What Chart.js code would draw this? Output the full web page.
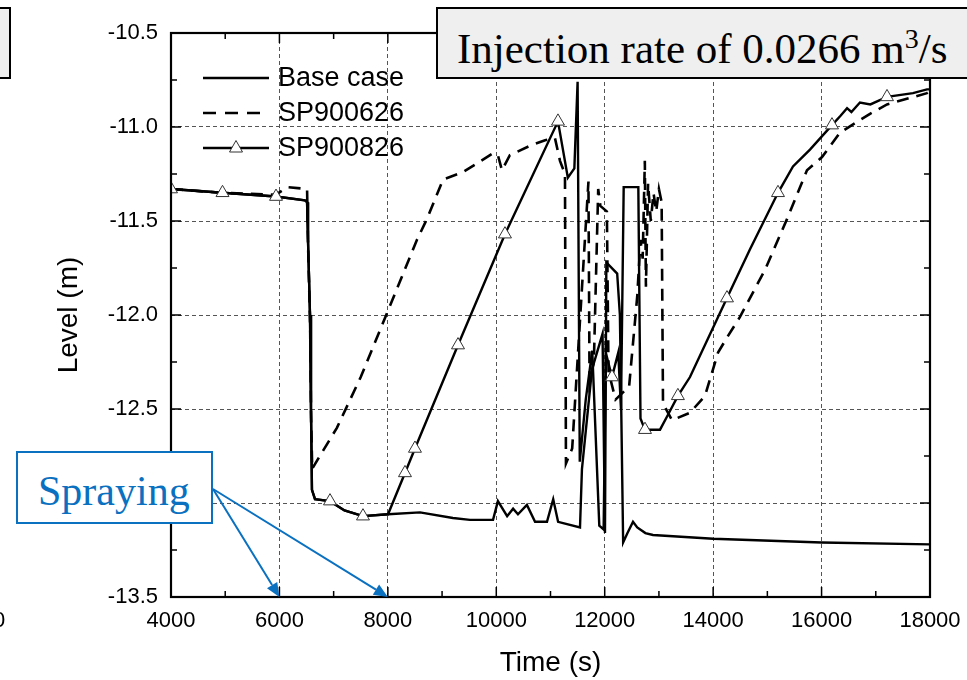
<!DOCTYPE html>
<html>
<head>
<meta charset="utf-8">
<script src="https://cdn.jsdelivr.net/npm/chart.js@4.4.0/dist/chart.umd.min.js"></script>
<style>
  body { margin: 0; background: #fff; }
  #wrap { position: relative; width: 967px; height: 680px; overflow: hidden; }
  #wrap canvas { position: absolute; left: 0; top: 0; }
  .box { position: absolute; border: 2px solid #000; background: #efefef; box-sizing: border-box; }
  .serif { position: absolute; font-family: "Liberation Serif", "Times New Roman", serif; white-space: nowrap; }
</style>
</head>
<body>
<div id="wrap">
  <canvas id="levelChart" width="967" height="680"></canvas>
  <div class="box" style="left:-20px; top:7px; width:31px; height:72px;"></div>
  <div class="box" style="left:436px; top:7px; width:560px; height:72px;"></div>
  <span class="serif" style="left:457px; top:17px; font-size:43px; line-height:43px; color:#000;">Injection rate of 0.0266 m<sup style="font-size:28px; vertical-align:15px;">3</sup>/s</span>
  <div style="position:absolute; left:16px; top:451px; width:197px; height:73px; border:2px solid #0a70c0; box-sizing:border-box; background:#fff;"></div>
  <span class="serif" style="left:38px; top:470px; font-size:42px; line-height:42px; color:#0a70c0;">Spraying</span>
  <span style="position:absolute; left:-7px; top:607px; font:22px 'Liberation Sans', Arial, sans-serif; color:#000;">0</span>
</div>
<script>
// axis ticks
const xMajor = [4000, 6000, 8000, 10000, 12000, 14000, 16000, 18000];
const xMinor = [5000, 7000, 9000, 11000, 13000, 15000, 17000];
const yMajor = [-13.5, -13.0, -12.5, -12.0, -11.5, -11.0, -10.5];
const yMinor = [-13.25, -12.75, -12.25, -11.75, -11.25, -10.75];

// Base case
const baseTime = [4000, 4950, 5937, 6470, 6510, 6527, 6564, 6582, 6600, 6656, 6933, 7200, 7541, 8003, 8593, 9200, 9515, 9940,
  10030, 10200, 10310, 10400, 10565, 10715, 10935, 11050, 11140, 11544, 11580, 11765, 11960, 12005, 12030, 12230, 12280,
  12340, 12420, 12522, 12600, 12750, 12890, 14000, 16000, 18000];
const baseLevel = [-11.33, -11.35, -11.37, -11.39, -11.40, -11.60, -12.00, -12.50, -12.93, -12.98, -12.99, -13.04, -13.07, -13.06, -13.05, -13.08, -13.09, -13.09,
  -12.99, -13.07, -13.03, -13.06, -13.01, -13.10, -13.10, -12.98, -13.10, -13.13, -12.82, -12.29, -12.10, -13.16, -11.72, -11.78, -12.00,
  -13.21, -13.16, -13.10, -13.13, -13.16, -13.17, -13.19, -13.21, -13.22];

// SP900626
const sp626Time = [4000, 4950, 5937, 6150, 6510, 6530, 6566, 6584, 6605, 6620, 7060, 7500, 7970, 8537, 8720, 9017, 9386, 9940, 10030, 10105, 10250,
  10620, 10900, 11083, 11175, 11267, 11285, 11400, 11700, 11720, 11800, 11880, 11920, 12040, 12070, 12200, 12450, 12600,
  12660, 12700, 12740, 12760, 12800, 12850, 12900, 12950, 13000, 13050, 13075, 13241, 13573, 13850, 14090, 14255, 14495,
  14956, 15362, 15731, 16008, 16340, 16893, 17207, 17944, 18000];
const sp626Level = [-11.33, -11.35, -11.36, -11.32, -11.33, -11.65, -12.05, -12.55, -12.82, -12.81, -12.60, -12.33, -12.00, -11.60, -11.49, -11.28, -11.24, -11.14, -11.15, -11.23, -11.15,
  -11.10, -11.07, -11.06, -11.18, -11.25, -12.79, -12.71, -11.29, -12.36, -12.25, -11.33, -11.42, -11.45, -12.30, -12.45, -12.38, -11.90,
  -11.60, -11.70, -11.18, -11.85, -11.30, -11.50, -11.35, -11.45, -11.33, -11.40, -12.47, -12.56, -12.52, -12.43, -12.20, -12.12, -12.01,
  -11.76, -11.49, -11.23, -11.16, -11.03, -10.93, -10.88, -10.82, -10.81];

// SP900826
const sp826Time = [4000, 4950, 5937, 6470, 6510, 6527, 6564, 6582, 6600, 6656, 6933, 7200, 7541, 8003, 8316, 8500, 9294, 10160,
  11138, 11320, 11440, 11500, 11540, 11650, 11770, 11900, 11980, 12020, 12134, 12250, 12300, 12350, 12620, 12660, 12743,
  13020, 13150, 13350, 13573, 14255, 14680, 15196, 15473, 15786, 16192, 16350, 16470, 16550, 16708, 16900, 17207, 17686,
  17945, 18000];
const sp826Level = [-11.33, -11.35, -11.37, -11.39, -11.40, -11.60, -12.00, -12.50, -12.93, -12.98, -12.99, -13.04, -13.07, -13.06, -12.84, -12.71, -12.16, -11.57,
  -10.97, -11.27, -11.22, -10.76, -12.78, -12.45, -12.19, -13.12, -13.14, -12.20, -12.33, -12.20, -12.50, -11.32, -11.32, -12.55, -12.61,
  -12.61, -12.54, -12.43, -12.33, -11.91, -11.65, -11.35, -11.21, -11.12, -10.99, -10.94, -10.90, -10.92, -10.87, -10.88, -10.84, -10.82,
  -10.80, -10.80];
const sp826Marks = [4000, 4950, 5937, 6933, 7541, 8316, 8500, 9294, 10160, 11138, 12134, 12743, 13350, 14255, 15196, 16192, 17207];

const legendNames = ['Base case', 'SP900626', 'SP900826'];

const toPts = (t, l) => t.map((x, i) => ({ x: x, y: l[i] }));
const sansFont = "'Liberation Sans', Arial, sans-serif";
const blue = '#0a70c0';

const framePlugin = {
  id: 'frame',
  afterDatasetsDraw(chart) {
    const { ctx, chartArea: a, scales: { x, y } } = chart;
    ctx.save();
    ctx.strokeStyle = '#000'; ctx.lineWidth = 2.2; ctx.setLineDash([]);
    ctx.strokeRect(a.left, a.top, a.right - a.left, a.bottom - a.top);
    ctx.lineWidth = 1.5;
    ctx.beginPath();
    const tickX = (v, len) => { const px = x.getPixelForValue(v);
      ctx.moveTo(px, a.bottom); ctx.lineTo(px, a.bottom - len); ctx.moveTo(px, a.top); ctx.lineTo(px, a.top + len); };
    const tickY = (v, len) => { const py = y.getPixelForValue(v);
      ctx.moveTo(a.left, py); ctx.lineTo(a.left + len, py); ctx.moveTo(a.right, py); ctx.lineTo(a.right - len, py); };
    xMajor.forEach(v => tickX(v, 10)); xMinor.forEach(v => tickX(v, 6));
    yMajor.forEach(v => tickY(v, 10)); yMinor.forEach(v => tickY(v, 6));
    ctx.stroke();

    // legend
    ctx.font = '27px ' + sansFont; ctx.fillStyle = '#000'; ctx.textBaseline = 'middle'; ctx.lineWidth = 2.4;
    legendNames.forEach((name, i) => {
      const ly = 78 + i * 35;
      ctx.setLineDash(i === 1 ? [13, 9] : []);
      ctx.beginPath(); ctx.moveTo(203, ly); ctx.lineTo(269, ly); ctx.stroke();
      ctx.setLineDash([]);
      ctx.fillText(name, 278, ly + 1);
    });
    const ty = 78 + 70;
    ctx.beginPath(); ctx.moveTo(236, ty - 7.5); ctx.lineTo(242.5, ty + 4); ctx.lineTo(229.5, ty + 4); ctx.closePath();
    ctx.fillStyle = '#fff'; ctx.fill(); ctx.lineWidth = 1; ctx.strokeStyle = '#333'; ctx.stroke();

    // spraying arrows
    ctx.strokeStyle = blue; ctx.fillStyle = blue; ctx.lineWidth = 2;
    [6000, 8000].forEach(v => {
      const sx = 213, sy = 489, ex = x.getPixelForValue(v), ey = a.bottom;
      const ang = Math.atan2(ey - sy, ex - sx);
      const hx = ex - 14 * Math.cos(ang), hy = ey - 14 * Math.sin(ang);
      ctx.beginPath(); ctx.moveTo(sx, sy); ctx.lineTo(hx, hy); ctx.stroke();
      ctx.beginPath(); ctx.moveTo(ex, ey);
      ctx.lineTo(hx + 6 * Math.sin(ang), hy - 6 * Math.cos(ang));
      ctx.lineTo(hx - 6 * Math.sin(ang), hy + 6 * Math.cos(ang));
      ctx.closePath(); ctx.fill();
    });
    ctx.restore();
  }
};

new Chart(document.getElementById('levelChart'), {
  type: 'line',
  data: {
    datasets: [
      { label: legendNames[0], data: toPts(baseTime, baseLevel), borderColor: '#000', borderWidth: 2.4,
        pointRadius: 0, tension: 0, order: 2 },
      { label: legendNames[1], data: toPts(sp626Time, sp626Level), borderColor: '#000', borderWidth: 2.6,
        borderDash: [12, 8], pointRadius: 0, tension: 0, order: 3 },
      { label: legendNames[2], data: toPts(sp826Time, sp826Level), borderColor: '#000', borderWidth: 2.4,
        tension: 0, order: 1, pointStyle: 'triangle',
        pointRadius: c => (c.raw && sp826Marks.includes(c.raw.x)) ? 7.5 : 0,
        pointHoverRadius: 0, pointBackgroundColor: '#fff', pointBorderColor: '#333', pointBorderWidth: 1 }
    ]
  },
  options: {
    responsive: false, animation: false, events: [],
    layout: { padding: { top: 33, right: 37, left: 0, bottom: 0 } },
    plugins: { legend: { display: false }, tooltip: { enabled: false } },
    scales: {
      x: {
        type: 'linear', min: 4000, max: 18000,
        afterBuildTicks: s => { s.ticks = xMajor.map(v => ({ value: v })); },
        afterFit: s => { s.height = 83; s.paddingLeft = 0; s.paddingRight = 0; },
        ticks: { color: '#000', font: { family: sansFont, size: 22 }, padding: 11, maxRotation: 0, autoSkip: false,
          callback: v => String(v) },
        grid: { color: '#555', lineWidth: 1, drawTicks: false },
        border: { display: false, dash: [4, 3] },
        title: { display: true, text: 'Time (s)', color: '#000', font: { family: sansFont, size: 28 }, padding: { top: 0, bottom: 0 } }
      },
      y: {
        type: 'linear', min: -13.5, max: -10.5,
        afterBuildTicks: s => { s.ticks = yMajor.map(v => ({ value: v })); },
        afterFit: s => { s.width = 171; s.paddingTop = 0; s.paddingBottom = 0; },
        ticks: { color: '#000', font: { family: sansFont, size: 22 }, padding: 13, autoSkip: false,
          callback: v => v.toFixed(1) },
        grid: { color: '#555', lineWidth: 1, drawTicks: false },
        border: { display: false, dash: [4, 3] },
        title: { display: true, text: 'Level (m)', color: '#000', font: { family: sansFont, size: 28 }, padding: { top: 52, bottom: 0 } }
      }
    }
  },
  plugins: [framePlugin]
});
</script>
</body>
</html>
